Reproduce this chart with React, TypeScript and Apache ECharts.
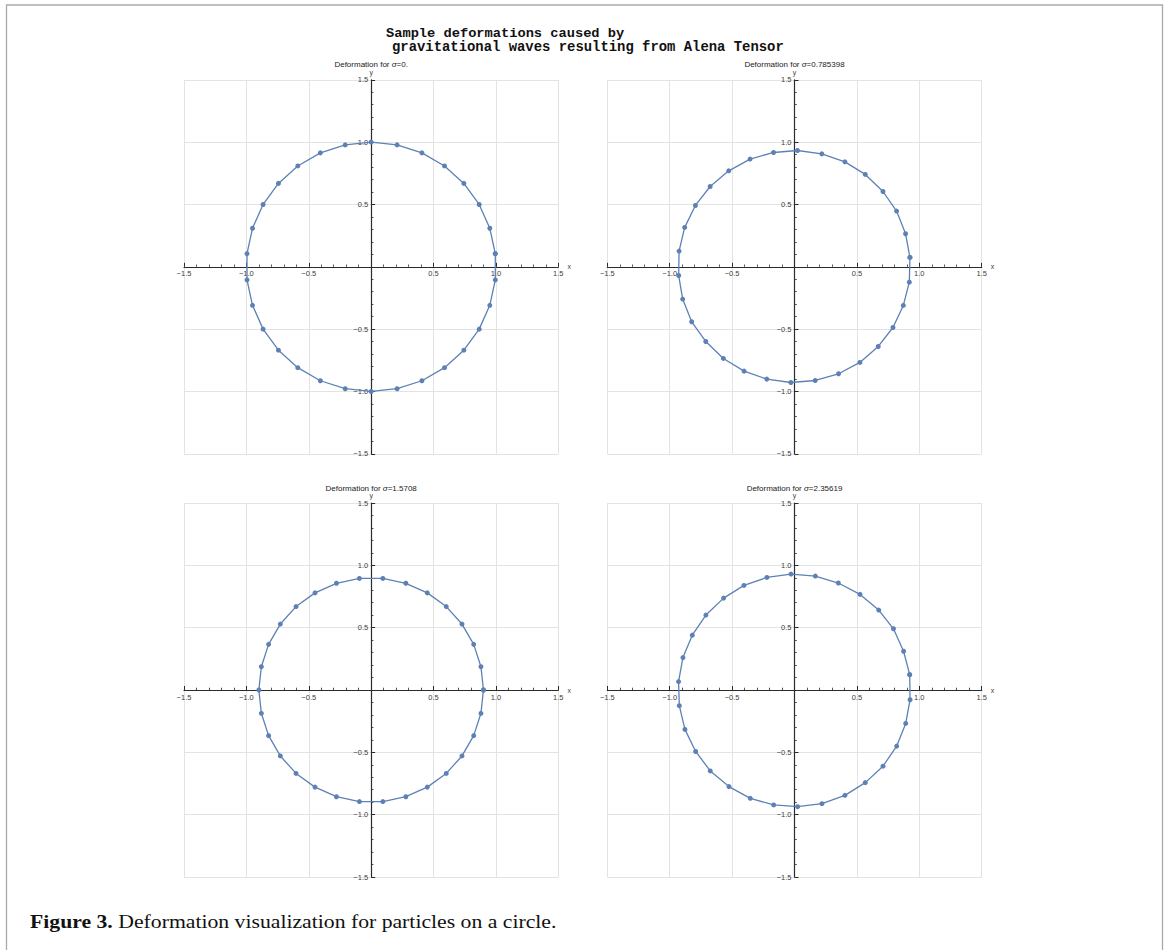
import React, { useEffect, useRef } from "react";
import * as echarts from "echarts";

// ---- data ----
const sigmaLabels = ["0.", "0.785398", "1.5708", "2.35619"];

const pointsSigma0: [number, number][] = [
  [0.995, 0.105], [0.951, 0.309], [0.866, 0.5], [0.743, 0.669], [0.588, 0.809],
  [0.407, 0.914], [0.208, 0.978], [0.0, 1.0], [-0.208, 0.978], [-0.407, 0.914],
  [-0.588, 0.809], [-0.743, 0.669], [-0.866, 0.5], [-0.951, 0.309], [-0.995, 0.105],
  [-0.995, -0.105], [-0.951, -0.309], [-0.866, -0.5], [-0.743, -0.669], [-0.588, -0.809],
  [-0.407, -0.914], [-0.208, -0.978], [0.0, -1.0], [0.208, -0.978], [0.407, -0.914],
  [0.588, -0.809], [0.743, -0.669], [0.866, -0.5], [0.951, -0.309], [0.995, -0.105],
];

const pointsSigma1: [number, number][] = [
  [0.925, 0.075], [0.89, 0.265], [0.818, 0.447], [0.709, 0.604], [0.567, 0.741],
  [0.404, 0.842], [0.219, 0.906], [0.024, 0.933], [-0.168, 0.917], [-0.356, 0.864],
  [-0.527, 0.77], [-0.676, 0.644], [-0.794, 0.492], [-0.88, 0.316], [-0.925, 0.126],
  [-0.928, -0.07], [-0.896, -0.259], [-0.824, -0.441], [-0.711, -0.599], [-0.57, -0.735],
  [-0.404, -0.837], [-0.222, -0.901], [-0.029, -0.928], [0.166, -0.912], [0.353, -0.858],
  [0.524, -0.767], [0.671, -0.639], [0.789, -0.487], [0.872, -0.31], [0.92, -0.123],
];

const pointsSigma2: [number, number][] = [
  [0.9, 0.0], [0.88, 0.187], [0.822, 0.366], [0.728, 0.529], [0.602, 0.669],
  [0.45, 0.779], [0.278, 0.856], [0.094, 0.895], [-0.094, 0.895], [-0.278, 0.856],
  [-0.45, 0.779], [-0.602, 0.669], [-0.728, 0.529], [-0.822, 0.366], [-0.88, 0.187],
  [-0.9, 0.0], [-0.88, -0.187], [-0.822, -0.366], [-0.728, -0.529], [-0.602, -0.669],
  [-0.45, -0.779], [-0.278, -0.856], [-0.094, -0.895], [0.094, -0.895], [0.278, -0.856],
  [0.45, -0.779], [0.602, -0.669], [0.728, -0.529], [0.822, -0.366], [0.88, -0.187],
];

const pointsSigma3: [number, number][] = [
  [0.923, 0.123], [0.874, 0.311], [0.793, 0.491], [0.675, 0.641], [0.525, 0.767],
  [0.351, 0.858], [0.167, 0.914], [-0.028, 0.93], [-0.221, 0.903], [-0.405, 0.839],
  [-0.568, 0.737], [-0.71, 0.601], [-0.819, 0.44], [-0.894, 0.26], [-0.929, 0.067],
  [-0.923, -0.126], [-0.878, -0.316], [-0.792, -0.493], [-0.675, -0.649], [-0.525, -0.775],
  [-0.354, -0.869], [-0.167, -0.922], [0.025, -0.936], [0.22, -0.912], [0.404, -0.845],
  [0.567, -0.743], [0.709, -0.611], [0.819, -0.45], [0.891, -0.268], [0.926, -0.078],
];

const panelPoints = [pointsSigma0, pointsSigma1, pointsSigma2, pointsSigma3];

const axisMin = -1.5;
const axisMax = 1.5;
const axisStep = 0.5;

const mainTitleLines = [
  "Sample deformations caused by",
  "gravitational waves resulting from Alena Tensor",
];
const captionBold = "Figure 3.";
const captionText = " Deformation visualization for particles on a circle.";

// ---- layout ----
const grids = [
  { left: 184, top: 79.8, width: 374.3, height: 374 },
  { left: 607.3, top: 79.8, width: 374.4, height: 374 },
  { left: 184, top: 503, width: 374.3, height: 374 },
  { left: 607.3, top: 503, width: 374.4, height: 374 },
];

const BLUE = "#5e81b5";
const AXIS = "#2b2b2b";
const LABEL = "#404040";
const SANS = "'Liberation Sans', Arial, Helvetica, sans-serif";

const fmt = (v: number) => {
  if (Math.abs(v) < 1e-9) return "";
  const s = Math.abs(v).toFixed(1);
  return v < 0 ? "\u2212" + s : s;
};

function makeAxis(kind: "x" | "y", i: number) {
  const g = grids[i];
  // move the axis from the grid edge to the origin (centre of the square grid)
  const offset = kind === "x" ? -g.height / 2 : -g.width / 2;
  return {
    type: "value",
    gridIndex: i,
    position: kind === "x" ? "bottom" : "left",
    offset,
    min: axisMin,
    max: axisMax,
    interval: axisStep,
    name: kind,
    nameLocation: "end",
    nameGap: kind === "x" ? 3.5 : 4,
    nameTextStyle: { fontSize: 7, color: LABEL, fontFamily: SANS },
    axisLine: { show: true, onZero: false, lineStyle: { color: AXIS, width: 1.2 } },
    axisTick: { show: true, inside: true, length: 4, lineStyle: { color: AXIS, width: 1 } },
    minorTick: { show: true, splitNumber: 5, length: 2.3, lineStyle: { color: AXIS, width: 0.8 } },
    axisLabel: {
      show: true,
      fontSize: 7.5,
      color: LABEL,
      fontFamily: SANS,
      margin: 3,
      showMinLabel: true,
      showMaxLabel: true,
      formatter: fmt,
    },
    splitLine: { show: true, lineStyle: { color: "#e3e3e3", width: 1 } },
    minorSplitLine: { show: false },
  };
}

export default function App() {
  const ref = useRef<HTMLDivElement>(null);

  useEffect(() => {
    if (!ref.current) return;
    const chart = echarts.init(ref.current, null, { renderer: "svg" });

    const mono = "'Liberation Mono', 'Courier New', monospace";
    const serif = "'Liberation Serif', 'Times New Roman', serif";

    const graphics: any[] = [
      {
        type: "rect",
        silent: true,
        shape: { x: 6.5, y: 5, width: 1156, height: 1000 },
        style: { fill: "none", stroke: "#aaaaaa", lineWidth: 1.3 },
      },
      {
        type: "text",
        x: 386,
        y: 33,
        style: {
          text: mainTitleLines[0],
          fontSize: 13.7,
          fontWeight: "bold",
          fontFamily: mono,
          fill: "#111",
          align: "left",
          textAlign: "left",
          verticalAlign: "middle",
          textVerticalAlign: "middle",
        },
      },
      {
        type: "text",
        x: 392,
        y: 47,
        style: {
          text: mainTitleLines[1],
          fontSize: 13.9,
          fontWeight: "bold",
          fontFamily: mono,
          fill: "#111",
          align: "left",
          textAlign: "left",
          verticalAlign: "middle",
          textVerticalAlign: "middle",
        },
      },
      {
        type: "text",
        x: 30,
        y: 921,
        scaleX: 1.143,
        style: {
          text: "{b|" + captionBold + "}" + captionText,
          fontSize: 19,
          fontFamily: serif,
          fill: "#111",
          align: "left",
          textAlign: "left",
          verticalAlign: "middle",
          textVerticalAlign: "middle",
          rich: {
            b: { fontSize: 19, fontWeight: "bold", fontFamily: serif, fill: "#111" },
          },
        },
      },
    ];

    grids.forEach((g, i) => {
      graphics.push({
        type: "text",
        x: g.left + g.width / 2,
        y: g.top - 15,
        style: {
          text: "Deformation for {i|\u03c3}=" + sigmaLabels[i],
          fontSize: 8,
          fontFamily: SANS,
          fill: "#222",
          align: "center",
          textAlign: "center",
          verticalAlign: "middle",
          textVerticalAlign: "middle",
          rich: {
            i: { fontSize: 8, fontStyle: "italic", fontFamily: SANS, fill: "#222" },
          },
        },
      });
    });

    const option: any = {
      animation: false,
      backgroundColor: "#ffffff",
      grid: grids.map((g) => ({ ...g, containLabel: false, outerBoundsMode: "none" })),
      xAxis: grids.map((_, i) => makeAxis("x", i)),
      yAxis: grids.map((_, i) => makeAxis("y", i)),
      series: panelPoints.map((pts, i) => ({
        type: "line",
        xAxisIndex: i,
        yAxisIndex: i,
        data: [...pts, pts[0]],
        symbol: "circle",
        symbolSize: 5,
        showSymbol: true,
        smooth: false,
        clip: false,
        lineStyle: { color: BLUE, width: 1.3 },
        itemStyle: { color: BLUE },
        z: 3,
      })),
      graphic: graphics,
    };

    chart.setOption(option);
    return () => chart.dispose();
  }, []);

  return (
    <div
      ref={ref}
      style={{ position: "absolute", left: 0, top: 0, width: 1165, height: 950 }}
    />
  );
}
